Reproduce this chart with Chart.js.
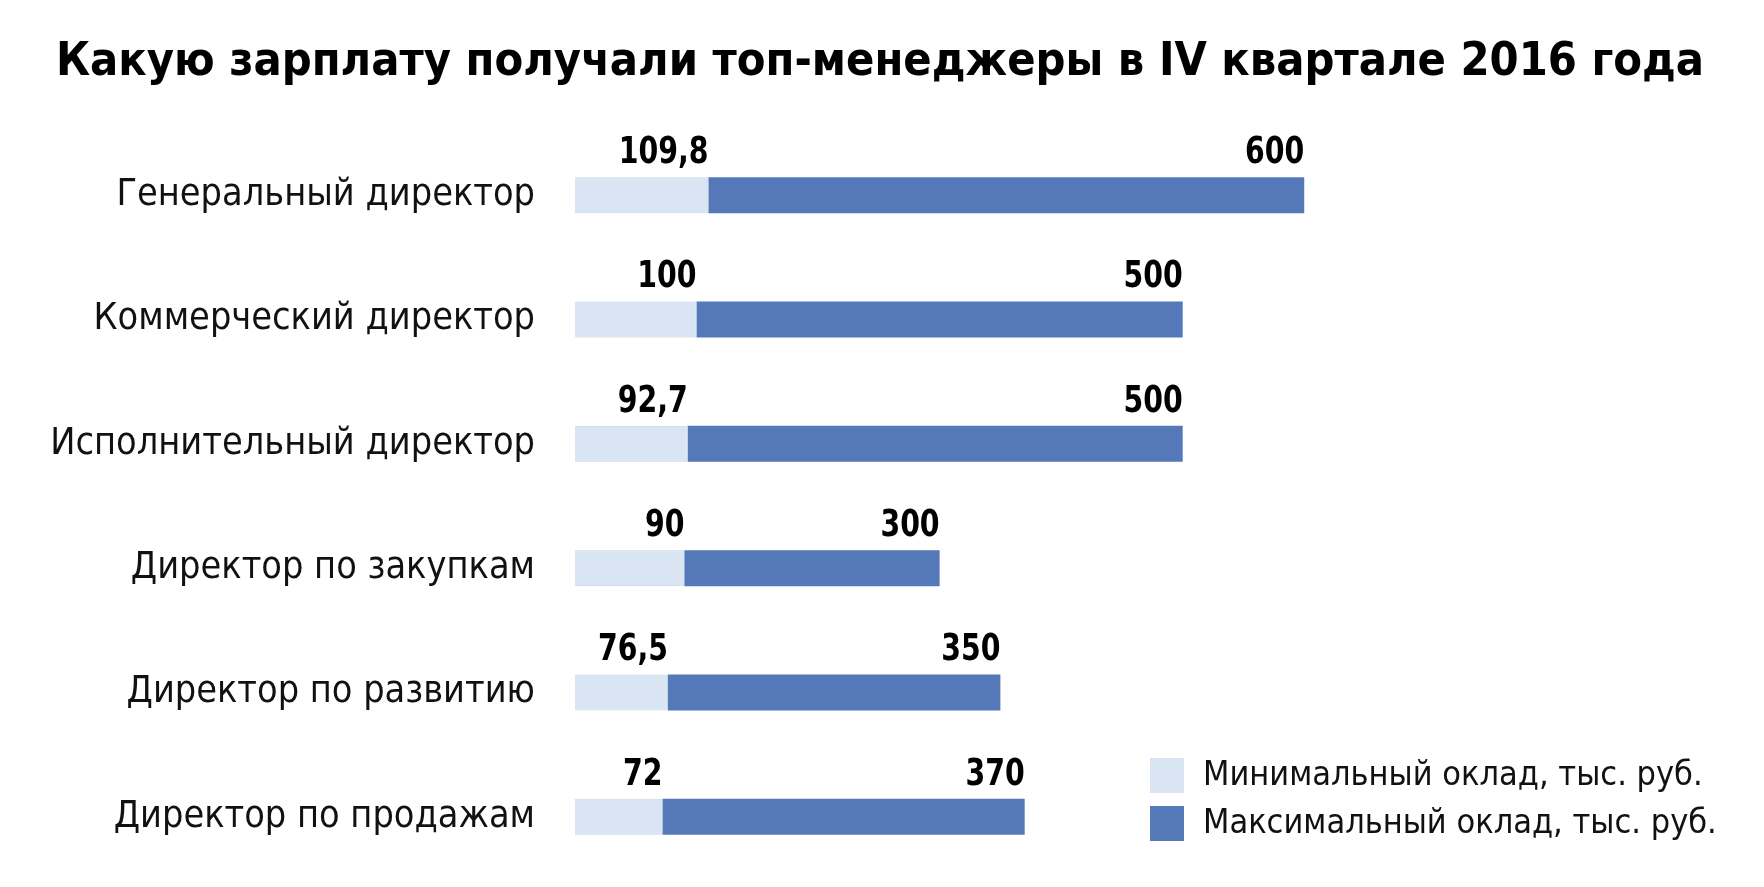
<!DOCTYPE html>
<html>
<head>
<meta charset="utf-8">
<script src="https://cdn.jsdelivr.net/npm/chart.js@4/dist/chart.umd.min.js"></script>
<style>
  html, body { margin: 0; padding: 0; background: #ffffff; }
  #wrap { width: 1764px; height: 887px; }
</style>
</head>
<body>
<div id="wrap"><canvas id="c" width="1764" height="887"></canvas></div>
<script>
const titleText = 'Какую зарплату получали топ-менеджеры в IV квартале 2016 года';
const categories = [
  'Генеральный директор',
  'Коммерческий директор',
  'Исполнительный директор',
  'Директор по закупкам',
  'Директор по развитию',
  'Директор по продажам'
];
const minSalary = [109.8, 100, 92.7, 90, 76.5, 72];
const maxSalary = [600, 500, 500, 300, 350, 370];
const seriesNames = ['Минимальный оклад, тыс. руб.', 'Максимальный оклад, тыс. руб.'];

const LIGHT = '#d9e5f2';
const LIGHT_BORDER = '#c3d3e6';
const DARK = '#5478b8';
const FONT = "'Liberation Sans Narrow', 'DejaVu Sans Condensed', Roboto, sans-serif";

const fmt = v => String(v).replace('.', ',');

const valueLabels = {
  id: 'valueLabels',
  afterDatasetsDraw(chart) {
    const ctx = chart.ctx;
    const xs = chart.scales.x;
    const meta = chart.getDatasetMeta(0);
    const sx = 0.83;
    ctx.save();
    ctx.font = "bold 38px " + FONT;
    ctx.fillStyle = '#000';
    ctx.textAlign = 'right';
    ctx.textBaseline = 'alphabetic';
    meta.data.forEach((bar, i) => {
      const top = bar.y - bar.height / 2;
      const yb = top - 14;
      [minSalary[i], maxSalary[i]].forEach(v => {
        ctx.save();
        ctx.translate(xs.getPixelForValue(v), yb);
        ctx.scale(sx, 1);
        ctx.fillText(fmt(v), 0, 0);
        ctx.restore();
      });
    });
    ctx.restore();
  }
};

const customLegend = {
  id: 'customLegend',
  afterDraw(chart) {
    const ctx = chart.ctx;
    ctx.save();
    const items = chart.data.datasets;
    const ys = [775, 823];
    items.forEach((ds, i) => {
      ctx.fillStyle = ds.backgroundColor;
      ctx.fillRect(1150, ys[i] - 17, 34, 35);
      ctx.fillStyle = '#111';
      ctx.font = "34px " + FONT;
      ctx.textAlign = 'left';
      ctx.textBaseline = 'middle';
      ctx.fillText(ds.label, 1203, ys[i] + 1);
    });
    ctx.restore();
  }
};

new Chart(document.getElementById('c'), {
  type: 'bar',
  data: {
    labels: categories,
    datasets: [
      {
        label: seriesNames[0],
        data: minSalary,
        backgroundColor: LIGHT,
        borderColor: LIGHT_BORDER,
        borderWidth: 1,
        grouped: false,
        barPercentage: 0.29,
        categoryPercentage: 1
      },
      {
        label: seriesNames[1],
        data: categories.map((_, i) => [minSalary[i], maxSalary[i]]),
        backgroundColor: DARK,
        borderWidth: 0,
        grouped: false,
        barPercentage: 0.29,
        categoryPercentage: 1
      }
    ]
  },
  options: {
    indexAxis: 'y',
    responsive: false,
    animation: false,
    layout: { padding: { left: 0, right: 4, top: 0, bottom: 8 } },
    plugins: {
      legend: { display: false },
      tooltip: { enabled: false },
      title: {
        display: true,
        text: titleText,
        color: '#000',
        font: { family: FONT, size: 46.5, weight: 'bold', lineHeight: 1.2 },
        padding: { top: 35.4, bottom: 41.8 }
      }
    },
    scales: {
      x: { display: false, min: 0, max: 975 },
      y: {
        grid: { display: false, drawTicks: false, tickLength: 0 },
        border: { display: false },
        ticks: {
          color: '#111',
          padding: 40,
          font: { family: FONT, size: 37.5 }
        },
        afterFit(axis) {
          axis.width = 575;
          axis.paddingTop = 0;
          axis.paddingBottom = 0;
        }
      }
    }
  },
  plugins: [valueLabels, customLegend]
});
</script>
</body>
</html>
